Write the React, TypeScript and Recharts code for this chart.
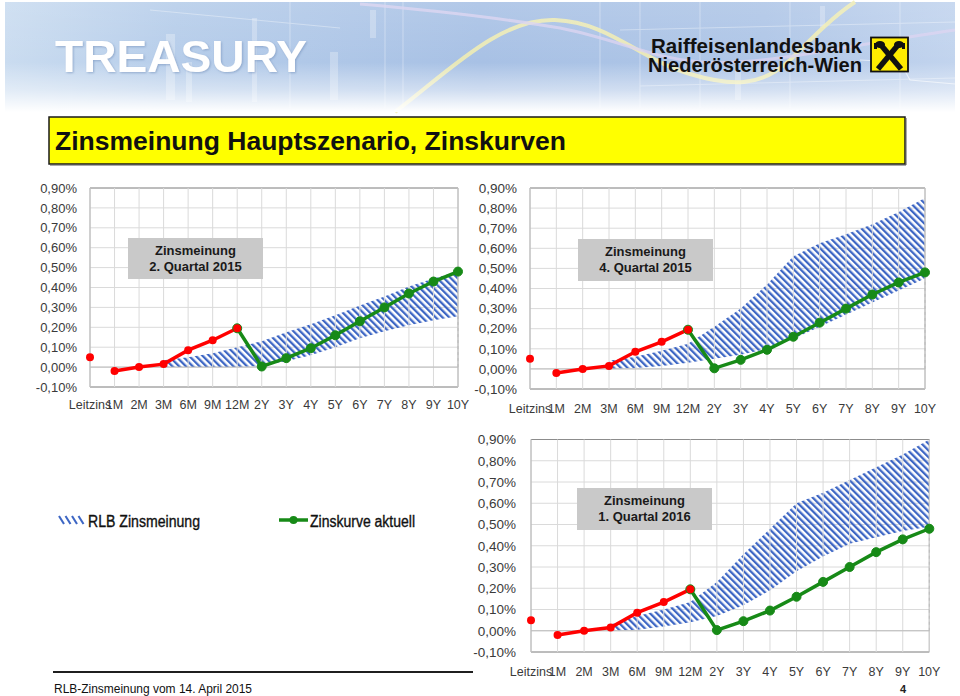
import React from 'react';
import {
  ComposedChart,
  Area,
  Line,
  XAxis,
  YAxis,
  CartesianGrid,
  ReferenceArea,
  ReferenceLine,
} from 'recharts';

const FONT = '"Liberation Sans", Arial, Helvetica, sans-serif';
const NARROW = '"Liberation Sans Narrow", "Arial Narrow", "Liberation Sans", Arial, sans-serif';

// ---------- data ----------
const CATEGORIES = ['Leitzins', '1M', '2M', '3M', '6M', '9M', '12M', '2Y', '3Y', '4Y', '5Y', '6Y', '7Y', '8Y', '9Y', '10Y'];
const Y_TICKS = [-0.1, 0, 0.1, 0.2, 0.3, 0.4, 0.5, 0.6, 0.7, 0.8, 0.9];

// current curve (Zinskurve aktuell), in percent
const LEITZINS = [0.05, null, null, null, null, null, null, null, null, null, null, null, null, null, null, null];
const CURVE_SHORT = [null, -0.02, 0.0, 0.015, 0.085, 0.135, 0.195, null, null, null, null, null, null, null, null, null];
const CURVE_LONG = [null, null, null, null, null, null, 0.195, 0.003, 0.045, 0.095, 0.16, 0.23, 0.3, 0.37, 0.43, 0.48];

// RLB Zinsmeinung bands (low / high), in percent
const Q2_2015_LOW = [null, null, null, 0, 0, 0, 0, 0.005, 0.03, 0.06, 0.1, 0.145, 0.18, 0.21, 0.235, 0.255];
const Q2_2015_HIGH = [null, null, null, 0.035, 0.05, 0.07, 0.1, 0.13, 0.175, 0.215, 0.26, 0.31, 0.355, 0.405, 0.445, 0.48];
const Q4_2015_LOW = [null, null, null, 0, 0.005, 0.015, 0.03, 0.05, 0.07, 0.1, 0.15, 0.21, 0.27, 0.33, 0.39, 0.45];
const Q4_2015_HIGH = [null, null, null, 0.04, 0.06, 0.09, 0.125, 0.21, 0.3, 0.42, 0.56, 0.625, 0.67, 0.72, 0.78, 0.85];
const Q1_2016_LOW = [null, null, null, 0, 0.005, 0.02, 0.04, 0.07, 0.12, 0.19, 0.28, 0.35, 0.41, 0.44, 0.47, 0.49];
const Q1_2016_HIGH = [null, null, null, 0.03, 0.07, 0.1, 0.135, 0.23, 0.36, 0.48, 0.6, 0.65, 0.71, 0.77, 0.83, 0.9];

const PANEL_TITLES = ['Zinsmeinung', '2. Quartal 2015', '4. Quartal 2015', '1. Quartal 2016'];
const LEGEND_LABELS = ['RLB Zinsmeinung', 'Zinskurve aktuell'];

const RED = '#ff0000';
const GREEN = '#178a17';
const HATCH = '#3d66c4';
const GRID = '#dadada';

function buildRows(low: (number | null)[], high: (number | null)[]) {
  return CATEGORIES.map((cat, i) => ({
    cat,
    leitzins: LEITZINS[i],
    short: CURVE_SHORT[i],
    long: CURVE_LONG[i],
    band: low[i] == null || high[i] == null ? null : [low[i], high[i]],
  }));
}

const fmtPct = (v: number) => v.toFixed(2).replace('.', ',') + '%';

type ChartProps = {
  id: string;
  left: number;
  top: number;
  width: number;
  height: number;
  margin: { top: number; right: number; bottom: number; left: number };
  low: (number | null)[];
  high: (number | null)[];
  yFont: number;
  xFont: number;
  tickMarginX: number;
  tickMarginY: number;
};

function CurveChart(p: ChartProps) {
  const data = buildRows(p.low, p.high);
  const pid = `hatch-${p.id}`;
  const lastLow = p.low[p.low.length - 1] as number;
  return (
    <div style={{ position: 'absolute', left: p.left, top: p.top, width: p.width, height: p.height }}>
      <ComposedChart width={p.width} height={p.height} data={data} margin={p.margin} style={{ fontFamily: FONT }}>
        <defs>
          <pattern id={pid} patternUnits="userSpaceOnUse" width="4.8" height="4.8" patternTransform="rotate(-45)">
            <rect x="0" y="0" width="2.3" height="4.8" fill={HATCH} />
          </pattern>
        </defs>
        <CartesianGrid stroke={GRID} strokeWidth={1} vertical={false} />
        <XAxis
          dataKey="cat"
          interval={0}
          axisLine={false}
          tickLine={false}
          tickSize={6}
          tickMargin={p.tickMarginX}
          height={31}
          tick={{ fontSize: p.xFont, fill: '#3a3a3a' }}
        />
        <YAxis
          type="number"
          domain={[-0.1, 0.9]}
          ticks={Y_TICKS}
          interval={0}
          width={60}
          axisLine={false}
          tickLine={false}
          tickSize={6}
          tickMargin={p.tickMarginY}
          tickFormatter={fmtPct}
          tick={{ fontSize: p.yFont, fill: '#3a3a3a' }}
          allowDataOverflow
        />
        {CATEGORIES.map((c) => (
          <ReferenceLine key={`g-${c}`} x={c} position="start" stroke={GRID} strokeWidth={1} />
        ))}
        <ReferenceLine y={0} stroke="#bdbdbd" />
        <Area
          type="linear"
          dataKey="band"
          stroke="none"
          fill={`url(#${pid})`}
          fillOpacity={1}
          dot={false}
          activeDot={false}
          isAnimationActive={false}
        />
        <ReferenceLine
          segment={[
            { x: '10Y', y: 0 },
            { x: '10Y', y: lastLow },
          ]}
          stroke="#bcbcbc"
          strokeDasharray="3 3"
        />
        <Line
          dataKey="long"
          stroke={GREEN}
          strokeWidth={3.5}
          dot={{ r: 4.5, fill: GREEN, stroke: GREEN, strokeWidth: 1 }}
          activeDot={false}
          isAnimationActive={false}
        />
        <Line
          dataKey="short"
          stroke={RED}
          strokeWidth={3.5}
          dot={{ r: 4, fill: RED, stroke: 'none' }}
          activeDot={false}
          isAnimationActive={false}
        />
        <Line
          dataKey="leitzins"
          stroke="none"
          dot={{ r: 4, fill: RED, stroke: 'none' }}
          activeDot={false}
          isAnimationActive={false}
        />
        <ReferenceArea y1={-0.1} y2={0.9} fill="none" stroke="#8c8c8c" strokeWidth={1} ifOverflow="visible" />
      </ComposedChart>
    </div>
  );
}

function Header() {
  return (
    <svg width={960} height={696} style={{ position: 'absolute', left: 0, top: 0 }}>
      <defs>
        <linearGradient id="hdrH" x1="0" x2="1" y1="0" y2="0">
          <stop offset="0" stopColor="#cadcf0" />
          <stop offset="0.18" stopColor="#b6cdea" />
          <stop offset="0.5" stopColor="#a8c1e5" />
          <stop offset="0.8" stopColor="#afc6e7" />
          <stop offset="1" stopColor="#c2d4ee" />
        </linearGradient>
        <linearGradient id="hdrFade" x1="0" x2="0" y1="0" y2="1">
          <stop offset="0" stopColor="#ffffff" stopOpacity="0.12" />
          <stop offset="0.55" stopColor="#ffffff" stopOpacity="0" />
          <stop offset="0.8" stopColor="#ffffff" stopOpacity="0.45" />
          <stop offset="1" stopColor="#ffffff" stopOpacity="1" />
        </linearGradient>
        <filter id="txtShadow" x="-5%" y="-20%" width="110%" height="140%">
          <feDropShadow dx="1" dy="1" stdDeviation="1" floodColor="#6f8db8" floodOpacity="0.6" />
        </filter>
      </defs>
      <rect x={5} y={2} width={950} height={110} fill="url(#hdrH)" />
      {/* decorative chart imagery */}
      <g fill="#ffffff" opacity={0.28}>
        <rect x={166} y={34} width={9} height={66} />
        <rect x={186} y={62} width={6} height={40} />
        <rect x={252} y={18} width={5} height={84} />
        <rect x={330} y={52} width={8} height={48} />
        <rect x={370} y={10} width={6} height={28} />
        <rect x={820} y={6} width={5} height={22} />
        <rect x={735} y={70} width={6} height={30} />
      </g>
      <g stroke="#ffffff" strokeWidth={1} opacity={0.35}>
        <line x1={290} y1={2} x2={290} y2={108} />
        <line x1={385} y1={2} x2={385} y2={108} />
        <line x1={403} y1={2} x2={403} y2={108} />
        <line x1={600} y1={2} x2={600} y2={108} />
        <line x1={640} y1={2} x2={640} y2={108} />
        <line x1={700} y1={2} x2={700} y2={108} />
        <line x1={790} y1={2} x2={790} y2={108} />
        <line x1={900} y1={2} x2={900} y2={108} />
        <line x1={150} y1={10} x2={340} y2={28} />
        <line x1={620} y1={30} x2={955} y2={22} />
        <line x1={640} y1={86} x2={955} y2={78} />
      </g>
      <path
        d="M 395 112 C 450 70 500 18 555 20 C 610 22 640 60 690 74 C 730 86 760 88 790 60 C 815 35 835 15 855 2"
        fill="none"
        stroke="#f3efb0"
        strokeWidth={4}
        opacity={0.85}
      />
      <path
        d="M 360 4 C 430 10 500 18 560 28 C 620 40 650 58 700 62 C 760 66 820 50 955 30"
        fill="none"
        stroke="#d9d2f0"
        strokeWidth={3}
        opacity={0.8}
      />
      <path d="M 860 60 L 900 62 L 910 80 L 955 84" fill="none" stroke="#ffffff" strokeWidth={1.2} opacity={0.6} />
      <rect x={5} y={2} width={950} height={110} fill="url(#hdrFade)" />

      <text
        x={55}
        y={72}
        fontFamily={FONT}
        fontWeight="bold"
        fontSize={45}
        fill="#ffffff"
        textLength={252}
        lengthAdjust="spacingAndGlyphs"
        filter="url(#txtShadow)"
      >
        TREASURY
      </text>

      <text x={651} y={53} fontFamily={NARROW} fontWeight="bold" fontSize={21} fill="#111111" textLength={211} lengthAdjust="spacingAndGlyphs">
        Raiffeisenlandesbank
      </text>
      <text x={648} y={72} fontFamily={NARROW} fontWeight="bold" fontSize={21} fill="#111111" textLength={214} lengthAdjust="spacingAndGlyphs">
        Niederösterreich-Wien
      </text>
      <rect x={871} y={37.5} width={37} height={34} fill="#ffec00" stroke="#111111" strokeWidth={1.8} />
      <g stroke="#111111" strokeWidth={5.5} strokeLinecap="butt">
        <line x1={878} y1={69} x2={898} y2={45} />
        <line x1={901} y1={69} x2={881} y2={45} />
      </g>
      <g fill="#111111">
        <ellipse cx={880} cy={44.5} rx={5} ry={3.5} />
        <ellipse cx={899} cy={44.5} rx={5} ry={3.5} />
        <rect x={874} y={43} width={3} height={6} />
        <rect x={902} y={43} width={3} height={6} />
      </g>

      {/* title bar */}
      <rect x={49} y={117} width={856} height={47} fill="#ffff00" stroke="#1a1a1a" strokeWidth={1.5} />
      <line x1={50} y1={165} x2={906} y2={165} stroke="#555" strokeWidth={1} />
      <line x1={906} y1={118} x2={906} y2={165} stroke="#555" strokeWidth={1} />
      <text x={55} y={149.5} fontFamily={FONT} fontWeight="bold" fontSize={25} fill="#111111" textLength={511} lengthAdjust="spacingAndGlyphs">
        Zinsmeinung Hauptszenario, Zinskurven
      </text>

      {/* legend */}
      <g stroke={HATCH} strokeWidth={2}>
        {[0, 1, 2, 3].map((i) => (
          <line key={i} x1={59 + i * 6.5} y1={516} x2={64 + i * 6.5} y2={524} />
        ))}
      </g>
      <text x={88} y={526.5} fontFamily={FONT} fontSize={16} fill="#111111" stroke="#111111" strokeWidth={0.35} textLength={112} lengthAdjust="spacingAndGlyphs">
        {LEGEND_LABELS[0]}
      </text>
      <line x1={279} y1={520} x2={308} y2={520} stroke={GREEN} strokeWidth={3.5} />
      <circle cx={293.5} cy={520} r={4} fill={GREEN} />
      <text x={310} y={526.5} fontFamily={FONT} fontSize={16} fill="#111111" stroke="#111111" strokeWidth={0.35} textLength={105} lengthAdjust="spacingAndGlyphs">
        {LEGEND_LABELS[1]}
      </text>

      {/* footer */}
      <line x1={53} y1={672} x2={473} y2={672} stroke="#1f1f1f" strokeWidth={2} />
      <text x={54} y={693} fontFamily={FONT} fontSize={12.5} fill="#111111" textLength={198} lengthAdjust="spacingAndGlyphs">
        RLB-Zinsmeinung vom 14. April 2015
      </text>
      <text x={900} y={693} fontFamily={FONT} fontWeight="bold" fontSize={11} fill="#222222">
        4
      </text>
    </svg>
  );
}

function Labels() {
  const boxes = [
    { x: 128, y: 238, w: 135, h: 41, sub: PANEL_TITLES[1] },
    { x: 578, y: 239, w: 135, h: 42, sub: PANEL_TITLES[2] },
    { x: 577, y: 488, w: 135, h: 42, sub: PANEL_TITLES[3] },
  ];
  return (
    <svg width={960} height={696} style={{ position: 'absolute', left: 0, top: 0, pointerEvents: 'none' }}>
      {boxes.map((b, i) => (
        <g key={i}>
          <rect x={b.x} y={b.y} width={b.w} height={b.h} fill="#c9c9c9" />
          <text x={b.x + b.w / 2} y={b.y + 16.5} textAnchor="middle" fontFamily={FONT} fontWeight="bold" fontSize={13} fill="#1a1a1a">
            {PANEL_TITLES[0]}
          </text>
          <text x={b.x + b.w / 2} y={b.y + 32.5} textAnchor="middle" fontFamily={FONT} fontWeight="bold" fontSize={13} fill="#1a1a1a">
            {b.sub}
          </text>
        </g>
      ))}
    </svg>
  );
}

export default function App() {
  return (
    <div style={{ position: 'absolute', left: 0, top: 0, width: 960, height: 696, background: '#ffffff', overflow: 'hidden', fontFamily: FONT }}>
      <Header />
      <CurveChart
        id="q2"
        left={30}
        top={178}
        width={440}
        height={240}
        margin={{ top: 10, right: 12, bottom: 0, left: 0 }}
        low={Q2_2015_LOW}
        high={Q2_2015_HIGH}
        yFont={13}
        xFont={12.5}
        tickMarginX={7}
        tickMarginY={7}
      />
      <CurveChart
        id="q4"
        left={470}
        top={178}
        width={470}
        height={242}
        margin={{ top: 10, right: 15, bottom: 0, left: 0 }}
        low={Q4_2015_LOW}
        high={Q4_2015_HIGH}
        yFont={13.5}
        xFont={12.5}
        tickMarginX={9}
        tickMarginY={7}
      />
      <CurveChart
        id="q1"
        left={471}
        top={429}
        width={470}
        height={254}
        margin={{ top: 10.5, right: 11.7, bottom: 0, left: 0 }}
        low={Q1_2016_LOW}
        high={Q1_2016_HIGH}
        yFont={13.5}
        xFont={12.5}
        tickMarginX={9}
        tickMarginY={9}
      />
      <Labels />
    </div>
  );
}
